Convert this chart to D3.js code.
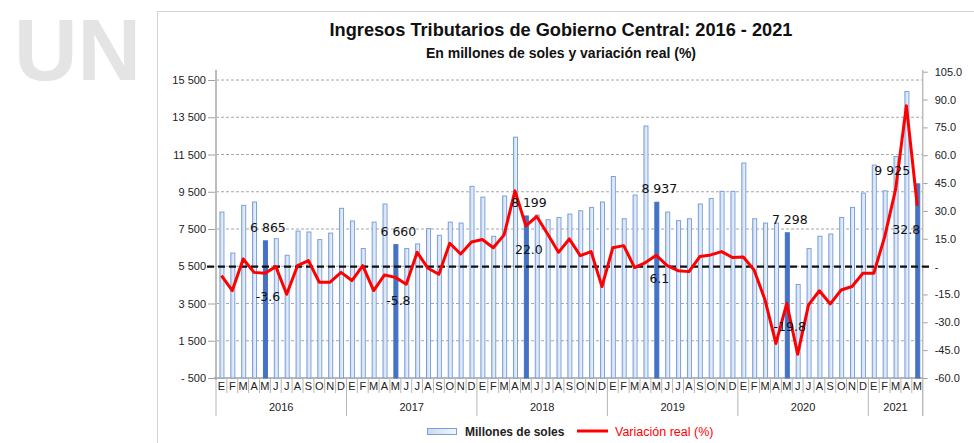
<!DOCTYPE html>
<html>
<head>
<meta charset="utf-8">
<script src="https://cdn.jsdelivr.net/npm/d3@7"></script>
<style>
  body { margin: 0; background: #fff; }
  svg { display: block; font-family: 'Liberation Sans', Arial, sans-serif; }
</style>
</head>
<body>
<div id="chart"></div>
<script>
// chart data
const years = ['2016', '2017', '2018', '2019', '2020', '2021'];
const monthLetters = ['E', 'F', 'M', 'A', 'M', 'J', 'J', 'A', 'S', 'O', 'N', 'D'];
const monthsPerYear = [12, 12, 12, 12, 12, 5];

// millones de soles
const millones = [
  8410, 6210, 8770, 8950, 6865, 6980, 6090, 7390, 7340, 6930, 7280, 8610,
  7930, 6450, 7870, 8840, 6660, 6450, 6700, 7520, 7160, 7870, 7820, 9790,
  9210, 7110, 9270, 12430, 8199, 8250, 8000, 8120, 8300, 8480, 8660, 8950,
  10320, 8050, 9320, 13030, 8937, 8410, 7950, 8050, 8840, 9140, 9520, 9520,
  11040, 8050, 7820, 7820, 7298, 4520, 6450, 7110, 7230, 8120, 8660, 9430,
  10930, 9550, 11390, 14880, 9925,
];

// variacion real (%)
const variacion = [
  -4.9, -12.9, 4.1, -3.1, -3.6, 0.0, -14.9, 0.5, 3.2, -8.4, -8.4, -3.1,
  -7.5, 0.5, -12.9, -4.5, -5.8, -9.5, 7.7, -0.9, -4.1, 12.6, 6.8, 13.3,
  14.6, 10.2, 17.1, 40.8, 22.0, 27.0, 17.6, 7.7, 14.9, 5.9, 8.1, -10.8,
  10.2, 11.3, -0.5, 2.2, 6.1, 0.5, -2.2, -2.7, 5.4, 6.3, 8.1, 4.9,
  5.2, -1.9, -18.0, -41.4, -19.8, -47.2, -20.6, -13.0, -20.1, -12.6, -10.7, -3.6,
  -3.6, 16.0, 41.3, 86.7, 32.8,
];

const leftTicks = [-500, 1500, 3500, 5500, 7500, 9500, 11500, 13500, 15500];
const rightTicks = [-60, -45, -30, -15, 0, 15, 30, 45, 60, 75, 90, 105];

// build the monthly records
const data = [];
years.forEach((yr, yi) => {
  for (let m = 0; m < monthsPerYear[yi]; m += 1) {
    const i = data.length;
    data.push({
      i, year: yr, month: monthLetters[m], value: millones[i], pct: variacion[i], highlight: m === 4,
    });
  }
});

const width = 974;
const height = 443;
const left = 216;
const right = 922.7;
const bottom = 378;
const narrow = "'Liberation Sans Narrow', 'Arial Narrow', 'Liberation Sans', sans-serif";

const svg = d3.select('#chart').append('svg')
  .attr('width', width)
  .attr('height', height);

// watermark + frame
svg.append('text')
  .attr('x', 14).attr('y', 80)
  .attr('font-size', 88).attr('font-weight', 'bold')
  .attr('fill', '#e4e4e4')
  .text('UN');
svg.append('rect')
  .attr('x', 157.5).attr('y', 11.5)
  .attr('width', 830).attr('height', 440)
  .attr('fill', 'none').attr('stroke', '#d4d4d4');

// title
svg.append('text')
  .attr('x', 561).attr('y', 36)
  .attr('text-anchor', 'middle')
  .attr('font-size', 18.2).attr('font-weight', 'bold')
  .attr('fill', '#111')
  .text('Ingresos Tributarios de Gobierno Central: 2016 - 2021');
svg.append('text')
  .attr('x', 561).attr('y', 58)
  .attr('text-anchor', 'middle')
  .attr('font-size', 14).attr('font-weight', 'bold')
  .attr('fill', '#111')
  .text('En millones de soles y variación real (%)');

// scales
const x = d3.scaleBand()
  .domain(data.map((d) => d.i))
  .range([left, right]);
const y = d3.scaleLinear().domain([-500, 15500]).range([bottom, 80]);
const y2 = d3.scaleLinear().domain([-60, 105]).range([bottom, 71.7]);

const thousands = (v) => {
  if (v < 0) return `- ${d3.format(',')(-v).replace(/,/g, ' ')}`;
  return d3.format(',')(v).replace(/,/g, ' ');
};
const oneDec = (v) => d3.format('.1f')(v).replace('\u2212', '-');

// grid lines
svg.append('g')
  .selectAll('line')
  .data(leftTicks.filter((t) => t > -500))
  .join('line')
  .attr('x1', left).attr('x2', right)
  .attr('y1', (d) => y(d)).attr('y2', (d) => y(d))
  .attr('stroke', '#a6a6a6')
  .attr('stroke-dasharray', '3,2');

// left axis
const yAxis = svg.append('g')
  .attr('transform', `translate(${left},0)`)
  .call(d3.axisLeft(y).tickValues(leftTicks).tickFormat(thousands).tickSize(8).tickPadding(2));
yAxis.select('.domain').remove();
yAxis.selectAll('line').attr('stroke', '#a0a0a0');
yAxis.selectAll('text')
  .attr('font-family', narrow)
  .attr('font-size', 11).attr('fill', '#222');
svg.append('line')
  .attr('x1', left).attr('x2', left).attr('y1', 70).attr('y2', bottom + 2)
  .attr('stroke', '#bdbdbd').attr('stroke-width', 2);

// right axis
const y2Axis = svg.append('g')
  .attr('transform', `translate(${right},0)`)
  .call(d3.axisRight(y2).tickValues(rightTicks)
    .tickFormat((d) => (d === 0 ? '-' : oneDec(d))).tickSize(5).tickPadding(7));
y2Axis.select('.domain').remove();
y2Axis.selectAll('line').attr('stroke', '#a0a0a0');
y2Axis.selectAll('text')
  .attr('font-family', narrow)
  .attr('font-size', 11).attr('fill', '#222');
svg.append('line')
  .attr('x1', right).attr('x2', right).attr('y1', 70).attr('y2', bottom + 38)
  .attr('stroke', '#bdbdbd').attr('stroke-width', 1.5);

// category axis
svg.append('line')
  .attr('x1', left - 2).attr('x2', right).attr('y1', bottom).attr('y2', bottom)
  .attr('stroke', '#a0a0a0').attr('stroke-width', 1.5);

const cat = svg.append('g');
cat.selectAll('line.sep')
  .data(data.slice(1))
  .join('line')
  .attr('class', 'sep')
  .attr('x1', (d) => x(d.i)).attr('x2', (d) => x(d.i))
  .attr('y1', bottom).attr('y2', (d) => (d.month === 'E' ? bottom + 38 : bottom + 15))
  .attr('stroke', '#b5b5b5');
svg.append('line')
  .attr('x1', left).attr('x2', left).attr('y1', bottom).attr('y2', bottom + 38)
  .attr('stroke', '#b5b5b5');
cat.selectAll('text.month')
  .data(data)
  .join('text')
  .attr('class', 'month')
  .attr('x', (d) => x(d.i) + x.bandwidth() / 2)
  .attr('y', bottom + 12)
  .attr('text-anchor', 'middle')
  .attr('font-family', narrow)
  .attr('font-size', 11).attr('fill', '#222')
  .text((d) => d.month);

const yearGroups = d3.groups(data, (d) => d.year);
cat.selectAll('text.year')
  .data(yearGroups)
  .join('text')
  .attr('class', 'year')
  .attr('x', ([, rows]) => (x(rows[0].i) + x(rows[rows.length - 1].i) + x.bandwidth()) / 2)
  .attr('y', bottom + 33)
  .attr('text-anchor', 'middle')
  .attr('font-family', narrow)
  .attr('font-size', 11).attr('fill', '#222')
  .text(([yr]) => yr);

// bars
const barW = 4;
const grad = svg.append('defs').append('linearGradient')
  .attr('id', 'barFill').attr('x1', 0).attr('x2', 1).attr('y1', 0).attr('y2', 0);
grad.append('stop').attr('offset', '0%').attr('stop-color', '#c9d9f2');
grad.append('stop').attr('offset', '100%').attr('stop-color', '#f2f6fc');

svg.append('g')
  .selectAll('rect')
  .data(data)
  .join('rect')
  .attr('x', (d) => x(d.i) + x.bandwidth() / 2 - barW / 2 + 0.5)
  .attr('y', (d) => y(d.value))
  .attr('width', barW)
  .attr('height', (d) => y(-500) - y(d.value))
  .attr('fill', (d) => (d.highlight ? '#4472c4' : 'url(#barFill)'))
  .attr('stroke', (d) => (d.highlight ? '#4472c4' : '#7aa0da'))
  .attr('stroke-width', 1);

// zero reference line
svg.append('line')
  .attr('x1', left - 9).attr('x2', right + 7)
  .attr('y1', y2(0)).attr('y2', y2(0))
  .attr('stroke', '#111').attr('stroke-width', 2.2)
  .attr('stroke-dasharray', '7,4');

// variation line
svg.append('path')
  .datum(data)
  .attr('fill', 'none')
  .attr('stroke', '#ff0000')
  .attr('stroke-width', 3)
  .attr('stroke-linejoin', 'round')
  .attr('d', d3.line()
    .x((d) => x(d.i) + x.bandwidth() / 2)
    .y((d) => y2(d.pct)));

// labels on the highlighted months
const hl = data.filter((d) => d.highlight);
const isLast = (d) => d.i === data.length - 1;
svg.append('g')
  .selectAll('text')
  .data(hl)
  .join('text')
  .attr('x', (d) => x(d.i) + x.bandwidth() / 2 + (isLast(d) ? -25 : 3))
  .attr('y', (d) => y(d.value) - 9)
  .attr('text-anchor', 'middle')
  .attr('font-family', "'DejaVu Sans', sans-serif")
  .attr('font-size', 12.5).attr('fill', '#111')
  .text((d) => thousands(d.value));
svg.append('g')
  .selectAll('text')
  .data(hl)
  .join('text')
  .attr('x', (d) => x(d.i) + x.bandwidth() / 2 + (isLast(d) ? -11 : 3))
  .attr('y', (d) => y2(d.pct) + 28)
  .attr('text-anchor', 'middle')
  .attr('font-family', "'DejaVu Sans', sans-serif")
  .attr('font-size', 12.5).attr('fill', '#111')
  .text((d) => oneDec(d.pct));

// legend
const legend = svg.append('g');
legend.append('rect')
  .attr('x', 427.5).attr('y', 428.5).attr('width', 29).attr('height', 6)
  .attr('fill', 'url(#barFill)').attr('stroke', '#7aa0da');
legend.append('text')
  .attr('x', 465).attr('y', 436)
  .attr('font-family', narrow)
  .attr('font-size', 12).attr('font-weight', 'bold').attr('fill', '#222')
  .text('Millones de soles');
legend.append('line')
  .attr('x1', 577).attr('x2', 608).attr('y1', 431).attr('y2', 431)
  .attr('stroke', '#ff0000').attr('stroke-width', 3);
legend.append('text')
  .attr('x', 615).attr('y', 436)
  .attr('font-family', narrow)
  .attr('font-size', 12.5).attr('fill', '#ff0000')
  .text('Variación real (%)');
</script>
</body>
</html>
